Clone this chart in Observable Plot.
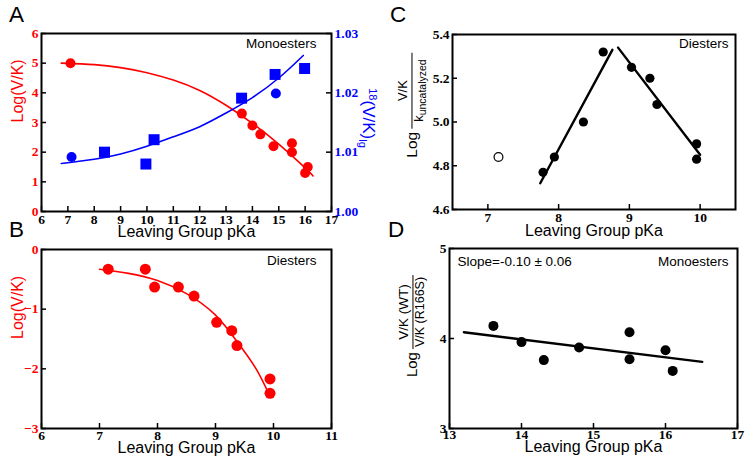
<!DOCTYPE html>
<html><head><meta charset="utf-8">
<script src="https://cdn.jsdelivr.net/npm/d3@7"></script>
<script src="https://cdn.jsdelivr.net/npm/@observablehq/plot@0.6"></script>
<style>
body{margin:0;background:#fff;}
#fig{position:relative;width:751px;height:466px;overflow:hidden;background:#fff;font-family:"Liberation Sans",Arial,sans-serif;}
.letter{position:absolute;font-size:22.5px;line-height:1;color:#000;}
.ylab{position:absolute;display:flex;align-items:center;white-space:nowrap;color:#000;transform:translate(-50%,-50%) rotate(-90deg);}
.ylab .log{font-size:15.5px;margin-right:3px;}
.frac{display:inline-flex;flex-direction:column;align-items:center;}
.frac .num,.frac .den{font-size:13px;line-height:1.15;padding:0 2px;}
.frac .bar{align-self:stretch;height:1.2px;background:#000;}
.frac sub{font-size:10.5px;vertical-align:-3px;line-height:0;}
.rlab{position:absolute;white-space:nowrap;color:#0000ff;font-size:17px;transform:translate(-50%,-50%) rotate(90deg);}
.rlab sup{font-size:11px;vertical-align:6px;line-height:0;}
.rlab sub{font-size:11px;vertical-align:-4px;line-height:0;}
</style></head>
<body><div id="fig"></div>
<script>
// ---------- data ----------
// Panel A (monoesters)
const aRedX = [7.1, 13.6, 14.0, 14.3, 14.8, 15.5, 15.5, 16.0, 16.1];
const aRedY = [5.0, 3.3, 2.9, 2.6, 2.2, 2.3, 2.0, 1.3, 1.5];
const aRedFitX = [6.75, 8, 9, 10, 11, 12, 13, 14, 15, 16, 16.3];
const aRedFitY = [5.0, 4.95, 4.85, 4.68, 4.43, 4.08, 3.58, 2.97, 2.27, 1.47, 1.2];
const aBlueCircX = [7.14, 14.89];
const aBlueCircY = [1.0092, 1.0199];
const aBlueSqX = [8.39, 9.96, 10.27, 13.59, 14.86, 15.98];
const aBlueSqY = [1.0100, 1.0080, 1.0121, 1.0191, 1.0231, 1.0241];
const aBlueFitX = [6.75, 8, 9, 10, 11, 12, 13, 14, 15, 15.93];
const aBlueFitY = [1.0081, 1.0088, 1.0097, 1.0110, 1.0126, 1.0143, 1.0166, 1.0192, 1.0225, 1.0263];
const aXTicks = [6, 7, 8, 9, 10, 11, 12, 13, 14, 15, 16, 17];
const aYTicks = [0, 1, 2, 3, 4, 5, 6];
const aY2Ticks = [1.00, 1.01, 1.02, 1.03];
// Panel B (diesters)
const bX = [7.15, 7.79, 7.95, 8.36, 8.63, 9.02, 9.28, 9.37, 9.94, 9.94];
const bY = [-0.33, -0.33, -0.63, -0.63, -0.78, -1.22, -1.36, -1.61, -2.17, -2.41];
const bFitX = [7.0, 7.5, 8.0, 8.5, 9.0, 9.4, 9.7, 9.92];
const bFitY = [-0.33, -0.40, -0.52, -0.74, -1.10, -1.58, -2.00, -2.42];
const bXTicks = [6, 7, 8, 9, 10, 11];
const bYTicks = [-3, -2, -1, 0];
// Panel C (diesters)
const cOpenX = [7.15];
const cOpenY = [4.84];
const cX = [7.78, 7.94, 8.35, 8.63, 9.03, 9.29, 9.39, 9.95, 9.95];
const cY = [4.77, 4.84, 5.00, 5.32, 5.25, 5.20, 5.08, 4.90, 4.83];
const cFit1X = [7.74, 8.76];
const cFit1Y = [4.72, 5.33];
const cFit2X = [8.84, 10.0];
const cFit2Y = [5.34, 4.85];
const cXTicks = [7, 8, 9, 10];
const cYTicks = [4.6, 4.8, 5.0, 5.2, 5.4];
// Panel D (monoesters, WT / R166S)
const dX = [13.61, 14.0, 14.31, 14.8, 15.5, 15.5, 16.0, 16.1];
const dY = [4.14, 3.96, 3.76, 3.90, 4.07, 3.77, 3.87, 3.64];
const dFitX = [13.2, 16.51];
const dFitY = [4.07, 3.74];
const dXTicks = [13, 14, 15, 16, 17];
const dYTicks = [3, 4, 5];
// Text
const xTitle = "Leaving Group pKa";
const yTitleAB = "Log(V/K)";
const monoLabel = "Monoesters";
const diLabel = "Diesters";
const slopeLabel = "Slope=-0.10 ± 0.06";

// ---------- helpers ----------
const fig = document.getElementById("fig");
const serif = '"Liberation Serif","Times New Roman",serif';
const sans = '"Liberation Sans",Arial,sans-serif';
const RED = "#ff0000", BLUE = "#0000ff";
const pts = (xs, ys) => xs.map((x, i) => ({x, y: ys[i]}));
const minus = d => (d < 0 ? "\u2212" + Math.abs(d) : String(d));
const tickFont = {fontFamily: serif, fontWeight: "bold", fontSize: 13.5};

// inward ticks + bold serif labels, positioned by the plot's scales
function xAxisMarks(ticks, frameH, dy, fmt = d => String(d), fill = "black") {
  return [
    Plot.tickX(ticks, {x: d => d, insetTop: frameH - 5, stroke: "black", strokeWidth: 1.5}),
    Plot.text(ticks, {x: d => d, text: d => fmt(d), frameAnchor: "bottom", dy, lineAnchor: "middle", fill, ...tickFont})
  ];
}
function yAxisMarks(ticks, frameW, fmt = d => String(d), fill = "black", side = "left") {
  const left = side === "left";
  return [
    Plot.tickY(ticks, left ? {y: d => d, insetRight: frameW - 5, stroke: "black", strokeWidth: 1.5}
                           : {y: d => d, insetLeft: frameW - 5, stroke: "black", strokeWidth: 1.5}),
    Plot.text(ticks, {y: d => d, text: d => fmt(d), frameAnchor: side, dx: left ? -3 : 3,
      textAnchor: left ? "end" : "start", lineAnchor: "middle", fill, ...tickFont})
  ];
}
function cornerText(str, anchor, dx, dy, textAnchor) {
  return Plot.text([str], {text: d => d, frameAnchor: anchor, dx, dy, textAnchor, lineAnchor: "middle",
    fontFamily: sans, fontSize: 13.5, fill: "black"});
}
function xTitleMark(dy) {
  return Plot.text([xTitle], {text: d => d, frameAnchor: "bottom", dy, lineAnchor: "middle", fontFamily: sans, fontSize: 16, fill: "black"});
}
function place(svg, left, top) {
  svg.style.position = "absolute";
  svg.style.left = left + "px";
  svg.style.top = top + "px";
  svg.style.maxWidth = "none";
  fig.appendChild(svg);
}
function plot(cfg) {
  return Plot.plot({
    width: cfg.width, height: cfg.height,
    marginLeft: cfg.ml, marginRight: cfg.mr, marginTop: cfg.mt, marginBottom: cfg.mb,
    x: {domain: cfg.xd, axis: null}, y: {domain: cfg.yd, axis: null},
    style: {background: "transparent", overflow: "visible"},
    marks: cfg.marks
  });
}

// ---------- Panel A ----------
place(plot({
  width: 400, height: 240, ml: 41, mr: 69, mt: 33, mb: 29, xd: [6, 17], yd: [0, 6],
  marks: [
    ...xAxisMarks(aXTicks, 178, 8),
    ...yAxisMarks(aYTicks, 290, d => String(d), RED),
    Plot.line(pts(aRedFitX, aRedFitY), {x: "x", y: "y", stroke: RED, strokeWidth: 1.6, curve: "natural"}),
    Plot.dot(pts(aRedX, aRedY), {x: "x", y: "y", r: 5, fill: RED}),
    cornerText(monoLabel, "top-right", -15, 10, "end"),
    xTitleMark(20),
    Plot.text([yTitleAB], {text: d => d, frameAnchor: "left", dx: -24, rotate: -90, lineAnchor: "middle", fontFamily: sans, fontSize: 16, fill: RED}),
    Plot.frame({stroke: "black", strokeWidth: 2})
  ]
}), 0, 0);
place(plot({
  width: 400, height: 240, ml: 41, mr: 69, mt: 33, mb: 29, xd: [6, 17], yd: [1.00, 1.03],
  marks: [
    ...yAxisMarks(aY2Ticks, 290, d => d.toFixed(2), BLUE, "right"),
    Plot.line(pts(aBlueFitX, aBlueFitY), {x: "x", y: "y", stroke: BLUE, strokeWidth: 1.6, curve: "natural"}),
    Plot.dot(pts(aBlueCircX, aBlueCircY), {x: "x", y: "y", r: 5, fill: BLUE}),
    Plot.dot(pts(aBlueSqX, aBlueSqY), {x: "x", y: "y", r: 6.2, symbol: "square", fill: BLUE})
  ]
}), 0, 0);

// ---------- Panel B ----------
place(plot({
  width: 400, height: 226, ml: 41, mr: 69, mt: 9, mb: 38, xd: [6, 11], yd: [-3, 0],
  marks: [
    ...xAxisMarks(bXTicks, 179, 7),
    ...yAxisMarks(bYTicks, 290, minus, RED),
    Plot.line(pts(bFitX, bFitY), {x: "x", y: "y", stroke: RED, strokeWidth: 1.6, curve: "natural"}),
    Plot.dot(pts(bX, bY), {x: "x", y: "y", r: 5.5, fill: RED}),
    cornerText(diLabel, "top-right", -15, 11, "end"),
    xTitleMark(19),
    Plot.text([yTitleAB], {text: d => d, frameAnchor: "left", dx: -24, rotate: -90, lineAnchor: "middle", fontFamily: sans, fontSize: 16, fill: RED}),
    Plot.frame({stroke: "black", strokeWidth: 2})
  ]
}), 0, 240);

// ---------- Panel C ----------
place(plot({
  width: 351, height: 240, ml: 52, mr: 16, mt: 34, mb: 31, xd: [6.5, 10.5], yd: [4.6, 5.4],
  marks: [
    ...xAxisMarks(cXTicks, 175, 8),
    ...yAxisMarks(cYTicks, 283, d => d.toFixed(1)),
    Plot.line(pts(cFit1X, cFit1Y), {x: "x", y: "y", stroke: "black", strokeWidth: 2.4}),
    Plot.line(pts(cFit2X, cFit2Y), {x: "x", y: "y", stroke: "black", strokeWidth: 2.4}),
    Plot.dot(pts(cX, cY), {x: "x", y: "y", r: 4.6, fill: "black"}),
    Plot.dot(pts(cOpenX, cOpenY), {x: "x", y: "y", r: 4.4, fill: "white", stroke: "black", strokeWidth: 1.2}),
    cornerText(diLabel, "top-right", -7, 9, "end"),
    xTitleMark(21),
    Plot.frame({stroke: "black", strokeWidth: 2})
  ]
}), 400, 0);

// ---------- Panel D ----------
place(plot({
  width: 351, height: 226, ml: 49, mr: 14, mt: 8, mb: 38, xd: [13, 17], yd: [3, 5],
  marks: [
    ...xAxisMarks(dXTicks, 180, 6),
    ...yAxisMarks(dYTicks, 288),
    Plot.line(pts(dFitX, dFitY), {x: "x", y: "y", stroke: "black", strokeWidth: 2.4}),
    Plot.dot(pts(dX, dY), {x: "x", y: "y", r: 5, fill: "black"}),
    cornerText(slopeLabel, "top-left", 8, 13, "start"),
    cornerText(monoLabel, "top-right", -9, 13, "end"),
    xTitleMark(18),
    Plot.frame({stroke: "black", strokeWidth: 2})
  ]
}), 400, 240);

// ---------- HTML labels ----------
function addHTML(cls, html, left, top) {
  const el = document.createElement("div");
  el.className = cls;
  el.innerHTML = html;
  el.style.left = left + "px";
  el.style.top = top + "px";
  fig.appendChild(el);
  return el;
}
addHTML("letter", "A", 9, 4);
addHTML("letter", "B", 9, 219);
addHTML("letter", "C", 390, 4);
addHTML("letter", "D", 388, 219);
addHTML("rlab", "<sup>18</sup>(V/K)<sub>lg</sub>", 368, 118);
addHTML("ylab", '<span class="log">Log</span><span class="frac"><span class="num">V/K</span><span class="bar"></span><span class="den" style="padding:0 7px">k<sub>uncatalyzed</sub></span></span>', 412, 105);
addHTML("ylab", '<span class="log" style="font-size:15px">Log</span><span class="frac"><span class="num" style="font-size:13.5px">V/K (WT)</span><span class="bar"></span><span class="den" style="font-size:12.5px">V/K (R166S)</span></span>', 412, 326);
</script>
</body></html>
